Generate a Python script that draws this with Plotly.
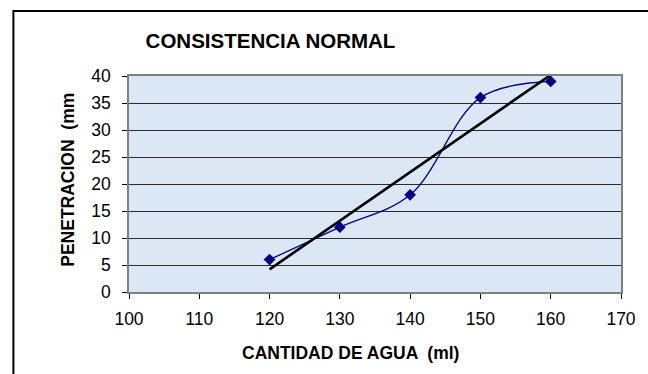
import numpy as np
import plotly.graph_objects as go

# Water content vs. penetration (normal consistency test)
agua_ml = [120, 130, 140, 150, 160]
penetracion_mm = [6, 12, 18, 36, 39]

x_ticks = [100, 110, 120, 130, 140, 150, 160, 170]
y_ticks = [0, 5, 10, 15, 20, 25, 30, 35, 40]

# Linear trend line fitted to the measurements
pend, inter = np.polyfit(agua_ml, penetracion_mm, 1)
x_tend = [min(agua_ml), max(agua_ml)]
y_tend = [pend * v + inter for v in x_tend]

W, H = 648, 374
L, R, T, B = 129, 21, 76, 82
pw, ph = W - L - R, H - T - B

FONT = "Liberation Sans, Arial, sans-serif"

fig = go.Figure()

fig.add_trace(go.Scatter(
    x=agua_ml, y=penetracion_mm, mode="lines+markers",
    line=dict(color="#000080", width=1.3, shape="spline", smoothing=1.0),
    marker=dict(symbol="diamond", size=9, color="#000080"),
    showlegend=False, cliponaxis=False,
))
fig.add_trace(go.Scatter(
    x=x_tend, y=y_tend, mode="lines",
    line=dict(color="#000000", width=2.6),
    showlegend=False, cliponaxis=True,
))

axis_font = dict(family=FONT, size=17.5, color="#000")

fig.update_xaxes(
    range=[100, 170], tickvals=x_ticks, ticks="outside", ticklen=5,
    tickcolor="#000", tickwidth=1, showgrid=False, zeroline=False,
    showline=True, linecolor="#808080", linewidth=1.5, mirror=True,
    tickfont=axis_font, ticklabelstandoff=5,
)
fig.update_yaxes(
    range=[0, 40], tickvals=y_ticks, ticks="outside", ticklen=5,
    tickcolor="#000", tickwidth=1, showgrid=True, gridcolor="#2b2b2b",
    gridwidth=1, zeroline=False,
    showline=True, linecolor="#808080", linewidth=1.5, mirror=True,
    tickfont=axis_font, ticklabelstandoff=8,
)

# Axis titles
fig.add_annotation(text="<b>CANTIDAD DE AGUA  (ml)</b>", xref="paper", yref="paper",
                   x=(353 - L) / pw, y=(H - B - 353) / ph,
                   xanchor="center", yanchor="middle", showarrow=False,
                   font=dict(family=FONT, size=17.5, color="#000"))
fig.add_annotation(text="<b>PENETRACION  (mm</b>", xref="paper", yref="paper",
                   x=(67 - L) / pw, y=(H - B - 180) / ph, textangle=-90,
                   xanchor="center", yanchor="middle", showarrow=False,
                   font=dict(family=FONT, size=17.5, color="#000"))

# Outer chart frame
fx0 = (12 - L) / pw
fy1 = (H - B - 11) / ph
fig.add_shape(type="rect", xref="paper", yref="paper",
              x0=fx0, x1=1.2, y0=-0.6, y1=fy1,
              line=dict(color="#000", width=2), layer="below")

fig.update_layout(
    width=W, height=H,
    margin=dict(l=L, r=R, t=T, b=B),
    paper_bgcolor="#ffffff", plot_bgcolor="#dce7f5",
    title=dict(text="<b>CONSISTENCIA NORMAL</b>", x=270.5 / W,
               xref="container", xanchor="center", y=1 - 40.5 / H, yanchor="middle",
               font=dict(family=FONT, size=20.5, color="#000")),
)

fig.write_html("out.html")
